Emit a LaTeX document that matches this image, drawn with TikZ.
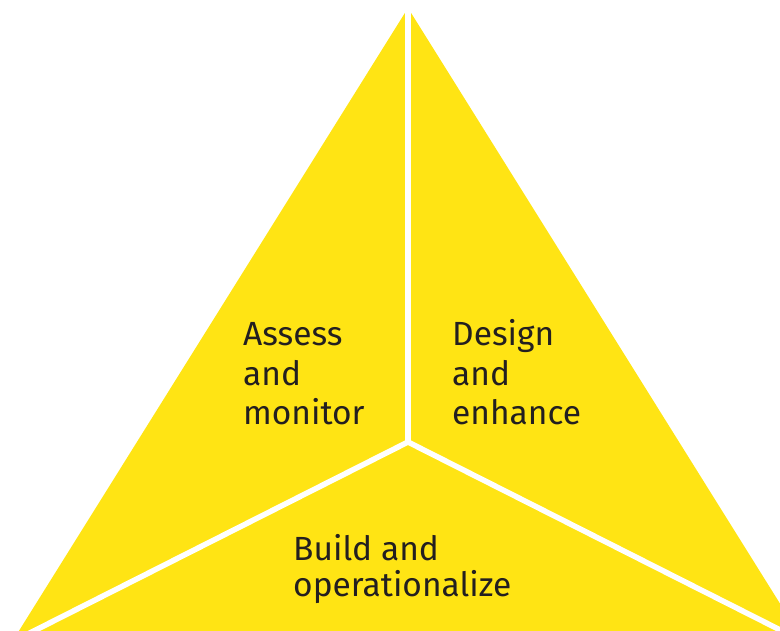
\documentclass[tikz,border=0pt]{standalone}
\usepackage{fontspec}
\setmainfont{Fira Sans}
\usetikzlibrary{calc}
\definecolor{eyyellow}{RGB}{255,228,20}
\definecolor{eytext}{RGB}{35,31,32}
\begin{document}
\begin{tikzpicture}[x=1pt,y=-1pt,
  sep/.style={draw=white,line width=5.5pt},
  lbl/.style={anchor=base west,inner sep=0pt,text=eytext,font=\fontsize{33.5}{38}\selectfont}]
\useasboundingbox (0,0) rectangle (780,630);
\clip (0,0) rectangle (780,630);
\coordinate (apex) at (408,8);
\coordinate (bl) at (12,642);
\coordinate (br) at (804,642);
\coordinate (ctr) at (408,442);
\coordinate (top) at (408,-10);
\fill[eyyellow] (apex) -- (bl) -- (br) -- cycle;
\draw[sep] (ctr) -- (top);
\draw[sep] (ctr) -- ($(ctr)!1.1!(bl)$);
\draw[sep] (ctr) -- ($(ctr)!1.1!(br)$);
\node[lbl] (a1) at (243,345) {Assess};
\node[lbl] (a2) at (243,385) {and};
\node[lbl] (a3) at (243,424) {monitor};
\node[lbl] (d1) at (452,345) {Design};
\node[lbl] (d2) at (452,385) {and};
\node[lbl] (d3) at (452,424) {enhance};
\node[lbl] (b1) at (293,560) {Build and};
\node[lbl] (b2) at (293,596) {operationalize};
\end{tikzpicture}
\end{document}
